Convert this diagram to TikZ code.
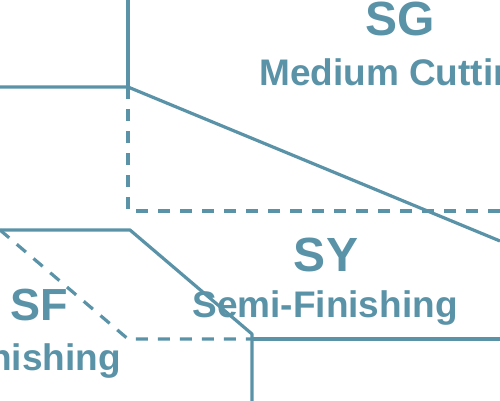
\documentclass[tikz,border=0pt]{standalone}
\usepackage{fontspec}
\setmainfont{Liberation Sans}
\definecolor{zonecol}{RGB}{90,147,168}
\begin{document}
\begin{tikzpicture}[x=1pt,y=-1pt,
  border/.style={zonecol,line width=3.2pt,line join=round},
  limit/.style={zonecol,line width=3.2pt,dash pattern=on 12pt off 10pt},
  code/.style={zonecol,font=\bfseries\fontsize{48}{48}\selectfont,inner sep=0},
  usage/.style={zonecol,font=\bfseries\fontsize{37}{37}\selectfont,inner sep=0}]
\useasboundingbox (0,0) rectangle (500,401);
\clip (0,0) rectangle (500,401);
% upper zone
\draw[border] (128,0)--(128,87);
\draw[border] (0,87)--(128,87)--(500,241);
\draw[limit] (128,87)--(128,211)--(500,211);
% lower zone
\draw[border] (0,230)--(130,230)--(252,334)--(252,401);
\draw[border] (252,339)--(500,339);
\draw[limit] (0,230)--(128,339)--(252,339);
% labels
\node[code,anchor=base] (sg) at (400,36) {SG};
\node[usage,anchor=base west] (sgtxt) at (259,86) {Medium Cutting};
\node[code,anchor=base] (sy) at (326,271) {SY};
\node[usage,anchor=base] (sytxt) at (325,317) {Semi-Finishing};
\node[code,font=\bfseries\fontsize{45}{45}\selectfont,anchor=base] (sf) at (39,320) {SF};
\node[usage,anchor=base east] (sftxt) at (121,370) {Finishing};
\end{tikzpicture}
\end{document}
